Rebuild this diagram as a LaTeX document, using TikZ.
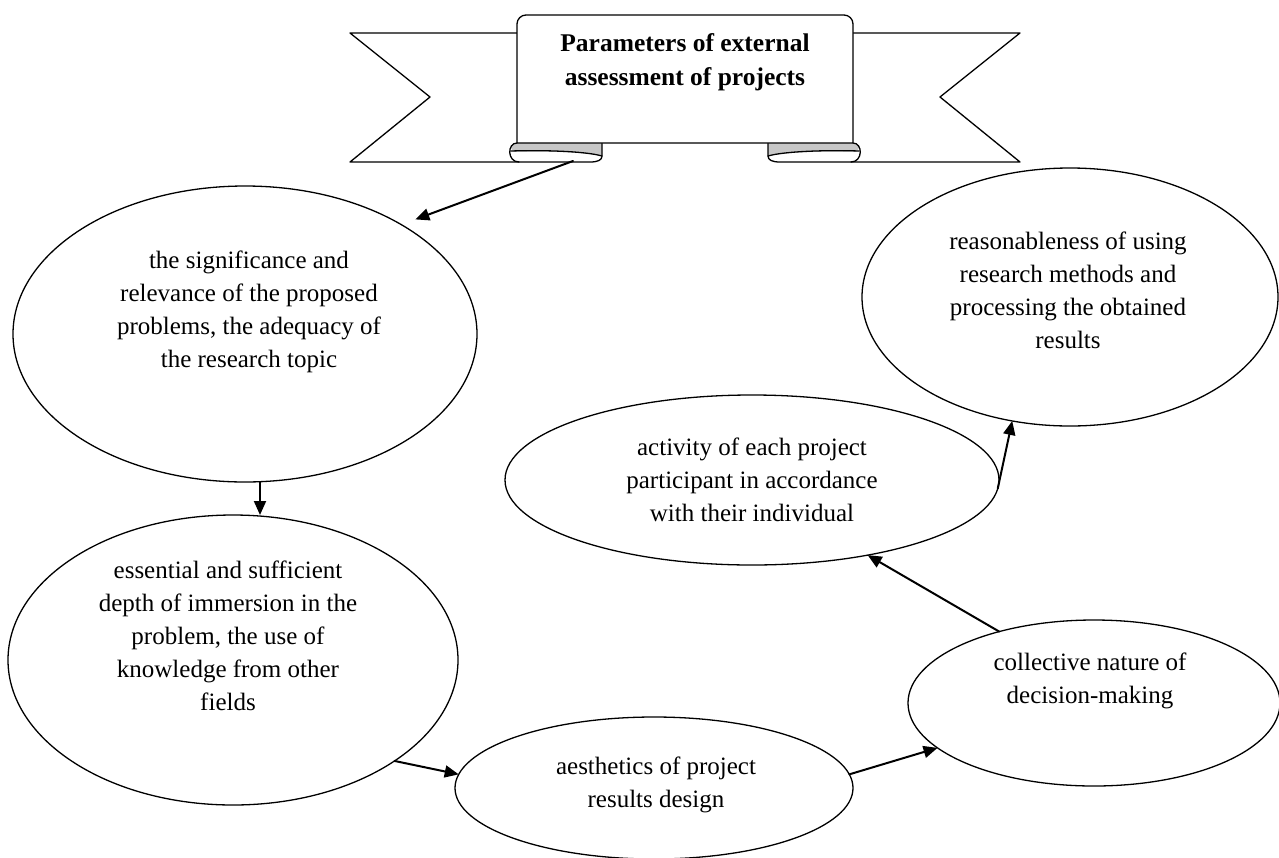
\documentclass[tikz,border=0pt]{standalone}
\usepackage{fontspec}
\setmainfont{Liberation Serif}
\usetikzlibrary{arrows.meta}
\usetikzlibrary{shapes.geometric}

\begin{document}
\begin{tikzpicture}[line cap=round,line join=round,x=1pt,y=-1pt,
  >={Triangle[length=14pt,width=12pt]},
  oval/.style={draw,ellipse,line width=1.3pt,inner sep=0pt,outer sep=0pt},
  txt/.style={align=center,font=\fontsize{25}{33}\selectfont},
  link/.style={->,line width=2pt},
  band/.style={line width=1.3pt}]
\useasboundingbox (0,0) rectangle (1279,857);
% side ribbons
\draw[band] (517,33) -- (350,33) -- (430,97) -- (350,162) -- (519,162);
\draw[band] (853,33) -- (1020,33) -- (940,97) -- (1020,162) -- (851,162);
% rolls
\fill[black!22] (517,143) .. controls (509,143) and (509,152) .. (517,152) .. controls (545,151) and (585,152) .. (602,156) -- (602,143) -- cycle;
\draw[band] (517,143) .. controls (507,143) and (507,162) .. (519,162) -- (590,162) .. controls (598,162) and (602,160) .. (602,156) -- (602,143);
\draw[band] (511,151) .. controls (540,150) and (585,151) .. (602,156);
\fill[black!22] (853,143) .. controls (861,143) and (861,152) .. (853,152) .. controls (825,151) and (785,152) .. (768,156) -- (768,143) -- cycle;
\draw[band] (853,143) .. controls (863,143) and (863,162) .. (851,162) -- (780,162) .. controls (772,162) and (768,160) .. (768,156) -- (768,143);
\draw[band] (859,151) .. controls (830,150) and (785,151) .. (768,156);
% title panel
\filldraw[band,fill=white] (517,143) {[rounded corners=9pt] -- (517,15) -- (853,15)} -- (853,143) -- cycle;
\node[align=center,font=\fontsize{25.5}{34}\selectfont\bfseries] (title) at (685,62) {Parameters of external\\assessment of projects};
\coordinate (rollL) at (573,161);

% ellipses
\node[oval,minimum width=464pt,minimum height=296pt] (sig) at (245,334) {};
\node[oval,minimum width=450pt,minimum height=290pt] (ess) at (233,660) {};
\node[oval,minimum width=398pt,minimum height=142pt] (aes) at (654,788) {};
\node[oval,minimum width=372pt,minimum height=166pt] (col) at (1094,703) {};
\node[oval,minimum width=494pt,minimum height=170pt] (act) at (752,480) {};
\node[oval,minimum width=416pt,minimum height=258pt] (reas) at (1070,297) {};

\node[txt] (sigt) at (249,312) {the significance and\\relevance of the proposed\\problems, the adequacy of\\the research topic};
\node[txt] (esst) at (228,636) {essential and sufficient\\depth of immersion in the\\problem, the use of\\knowledge from other\\fields};
\node[txt] (aest) at (656,785) {aesthetics of project\\results design};
\node[txt] (colt) at (1090,681) {collective nature of\\decision-making};
\node[txt] (actt) at (752,480) {activity of each project\\participant in accordance\\with their individual};
\node[txt] (reast) at (1068,290) {reasonableness of using\\research methods and\\processing the obtained\\results};

% arrows
\draw[link,shorten >=15pt] (rollL) -- (sig.35);
\draw[link] ([xshift=15pt]sig.south) -- ([xshift=15pt]sig.south |- ess.north);
\draw[link] (ess.-32) -- (aes.176);
\draw[link] (aes.4) -- (col.196);
\draw[link] (col.143) -- (act.-33);
\draw[link] (act.-2) -- (reas.245);
\end{tikzpicture}
\end{document}
